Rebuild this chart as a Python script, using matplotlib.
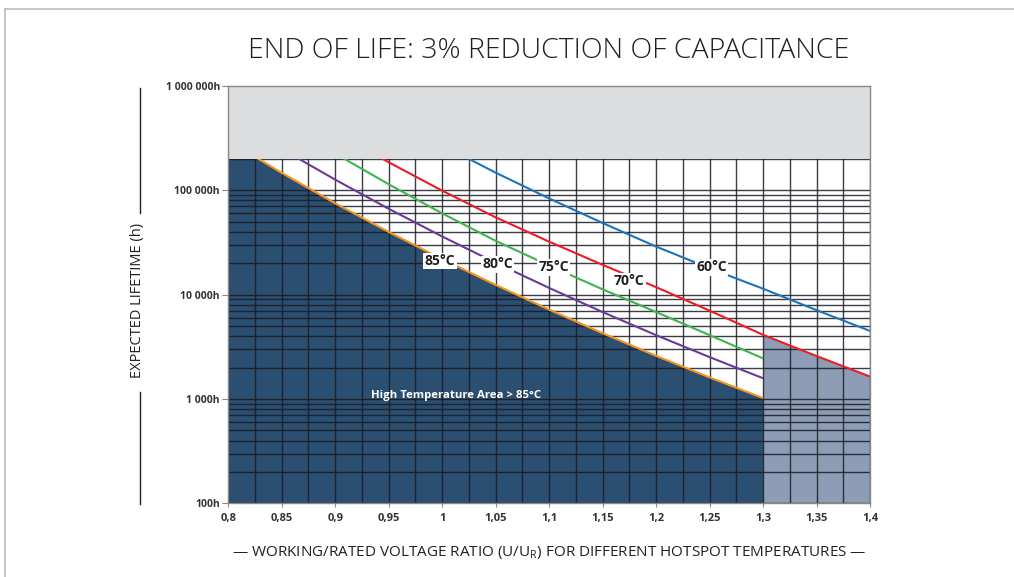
import numpy as np
import matplotlib.pyplot as plt
from matplotlib.ticker import FixedLocator, NullFormatter
from matplotlib.lines import Line2D

# voltage ratio U/U_R
ratio = [0.8, 0.85, 0.9, 0.95, 1.0, 1.05, 1.1, 1.15, 1.2, 1.25, 1.3, 1.35, 1.4]

# expected lifetime (h) per hotspot temperature
life_85 = [298000, 147000, 75000, 39900, 21900, 12400, 7180, 4270, 2590, 1610, 1020]
life_80 = [513000, 249000, 126500, 66500, 36100, 20200, 11600, 6810, 4090, 2520, 1580]
life_75 = [930000, 459000, 225000, 114300, 60100, 32800, 19000, 11250, 6820, 4090, 2450]
life_70 = [361000, 185800, 99100, 55100, 32200, 19300, 11800, 7030, 4120, 2580, 1640]
life_60 = [271000, 147600, 83600, 48600, 28900, 17900, 11400, 7100, 4490]

temps = ["85°C", "80°C", "75°C", "70°C", "60°C"]
label_x = [0.998, 1.052, 1.104, 1.175, 1.252]
label_y = [21000, 19500, 18250, 13500, 18250]

y_ticks = [100, 1000, 10000, 100000, 1000000]
y_labels = ["100h", "1 000h", "10 000h", "100 000h", "1 000 000h"]
x_ticks = [0.8, 0.85, 0.9, 0.95, 1.0, 1.05, 1.1, 1.15, 1.2, 1.25, 1.3, 1.35, 1.4]
x_labels = ["0,8", "0,85", "0,9", "0,95", "1", "1,05", "1,1", "1,15", "1,2", "1,25", "1,3", "1,35", "1,4"]

life_cap = 200000  # top of the plotted range (grey band above)

plt.rcParams['font.family'] = ['Open Sans', 'DejaVu Sans']
plt.rcParams['mathtext.fontset'] = 'custom'
plt.rcParams['mathtext.rm'] = 'Open Sans'

fig = plt.figure(figsize=(10.14, 5.77), dpi=100)
ax = fig.add_axes([0.2251, 0.1277, 0.858 - 0.2251, 0.851 - 0.1277])

x85 = ratio[:len(life_85)]
x80 = ratio[:len(life_80)]
x75 = ratio[:len(life_75)]
x70 = ratio[2:2 + len(life_70)]
x60 = ratio[4:4 + len(life_60)]

# areas (grey band hides anything above the cap)
ax.fill_between(x85, 1, life_85, color="#2b4f70", lw=0, zorder=1)
ax.fill_between(x70[-3:], 1, life_70[-3:], color="#8c9db5", lw=0, zorder=1)

# grid
ax.set_xlim(0.8, 1.4)
ax.set_yscale("log")
ax.set_ylim(100, 1000000)
ax.xaxis.set_minor_locator(FixedLocator(np.arange(0.8, 1.4001, 0.025)))
ax.grid(True, which="both", axis="both", color="#1b1b24", lw=1.0, alpha=0.85, zorder=2)
ax.set_axisbelow(False)

# lines
colors = ["#f7941d", "#6a3a9a", "#3cb64a", "#ed1c24", "#1c75bc"]
for xs, ys, c in zip([x85, x80, x75, x70, x60],
                     [life_85, life_80, life_75, life_70, life_60], colors):
    ax.plot(xs, ys, color=c, lw=1.5, zorder=4, solid_capstyle="butt")

# grey band on top
ax.axhspan(life_cap, 1000000, color="#dcdddf", lw=0, zorder=5)

for t, lx, ly in zip(temps, label_x, label_y):
    ax.text(lx, ly, t, ha="center", va="center", fontsize=10, fontweight="bold",
            color="#231f20", zorder=6,
            bbox=dict(boxstyle="square,pad=0.1", fc="white", ec="none"))

ax.text(1.0128, 1070, "High Temperature Area > 85°C", ha="center", va="center",
        fontsize=8.2, fontweight="bold", color="white", zorder=6)

ax.set_yticks(y_ticks)
ax.set_yticklabels(y_labels)
ax.yaxis.set_minor_formatter(NullFormatter())
ax.set_xticks(x_ticks)
ax.set_xticklabels(x_labels)
ax.tick_params(axis="y", which="major", length=4, width=0.8, color="#888888",
               labelsize=7.5, labelcolor="#333333", pad=2)
ax.tick_params(axis="y", which="minor", length=0)
ax.tick_params(axis="x", which="major", length=3, width=0.8, color="#888888",
               labelsize=8, labelcolor="#333333", pad=4)
ax.tick_params(axis="x", which="minor", length=0)
for lab in ax.get_xticklabels() + ax.get_yticklabels():
    lab.set_fontweight("bold")
for s in ax.spines.values():
    s.set_color("#888888")
    s.set_linewidth(1.0)
    s.set_zorder(7)

fig.text(0.5414, 0.912, "END OF LIFE: 3% REDUCTION OF CAPACITANCE", ha="center",
         va="center", fontsize=20.5, color="#231f20", fontweight="light")

fig.text(0.5415, 0.042, "— WORKING/RATED VOLTAGE RATIO (U/U$_{\\mathrm{R}}$) FOR DIFFERENT HOTSPOT TEMPERATURES —",
         ha="center", va="center", fontsize=11, color="#231f20")

fig.text(0.1355, 0.48, "EXPECTED LIFETIME (h)", rotation=90, ha="center", va="center",
         fontsize=10.5, color="#231f20")
fig.add_artist(Line2D([0.138, 0.138], [1 - 88 / 577, 1 - 213 / 577], color="#231f20", lw=1.0))
fig.add_artist(Line2D([0.138, 0.138], [1 - 392 / 577, 1 - 504 / 577], color="#231f20", lw=1.0))

# outer frame
fig.add_artist(Line2D([5 / 1014, 1.0], [1 - 9 / 577, 1 - 9 / 577], color="#bbbbbb", lw=1.2))
fig.add_artist(Line2D([5 / 1014, 5 / 1014], [0, 1 - 9 / 577], color="#bbbbbb", lw=1.2))

fig.savefig("out.png", dpi=100)
